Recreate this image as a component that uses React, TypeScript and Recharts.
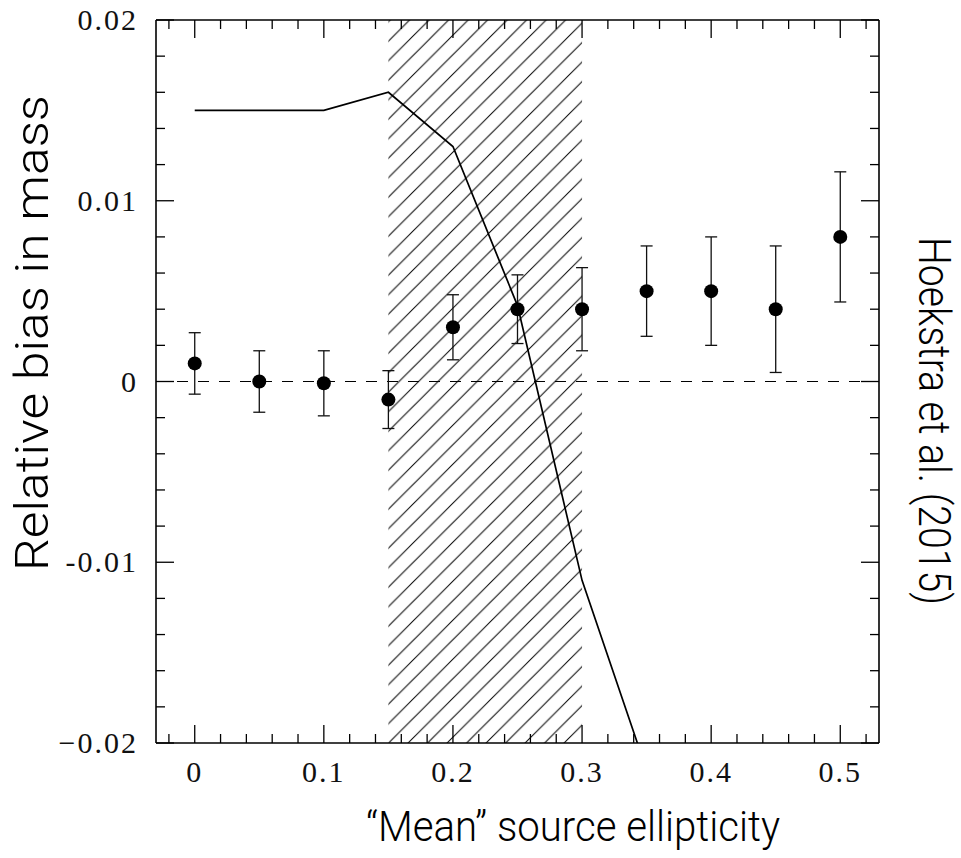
import React from "react";
import { ComposedChart, Line, Scatter, ErrorBar, XAxis, YAxis, ReferenceLine, ReferenceArea } from "recharts";

// measured points (with error bars)
const ellipticity = [0, 0.05, 0.1, 0.15, 0.2, 0.25, 0.3, 0.35, 0.4, 0.45, 0.5];
const measuredBias = [0.001, 0, -0.0001, -0.001, 0.003, 0.004, 0.004, 0.005, 0.005, 0.004, 0.008];
const biasError = [0.0017, 0.0017, 0.0018, 0.0016, 0.0018, 0.0019, 0.0023, 0.0025, 0.003, 0.0035, 0.0036];

// Hoekstra et al. (2015) curve
const curveX = [0, 0.05, 0.1, 0.15, 0.2, 0.25, 0.3, 0.35];
const curveBias = [0.015, 0.015, 0.015, 0.016, 0.013, 0.0042, -0.011, -0.0215];

// hatched band
const bandFrom = 0.15;
const bandTo = 0.3;

const xTicks = [-0.02, 0, 0.02, 0.04, 0.06, 0.08, 0.1, 0.12, 0.14, 0.16, 0.18, 0.2, 0.22, 0.24, 0.26, 0.28, 0.3, 0.32, 0.34, 0.36, 0.38, 0.4, 0.42, 0.44, 0.46, 0.48, 0.5, 0.52];
const xMajor = [0, 0.1, 0.2, 0.3, 0.4, 0.5];
const xMajorLabels = ["0", "0.1", "0.2", "0.3", "0.4", "0.5"];
const yTicks = [-0.02, -0.018, -0.016, -0.014, -0.012, -0.01, -0.008, -0.006, -0.004, -0.002, 0, 0.002, 0.004, 0.006, 0.008, 0.01, 0.012, 0.014, 0.016, 0.018, 0.02];
const yMajor = [-0.02, -0.01, 0, 0.01, 0.02];
const yMajorLabels = ["\u22120.02", "-0.01", "0", "0.01", "0.02"];

const points = ellipticity.map((x, i) => ({ x, y: measuredBias[i], err: biasError[i] }));
const curve = curveX.map((x, i) => ({ x, y: curveBias[i] }));

const W = 961;
const H = 858;
// plot frame edges (page px)
const LEFT = 156;
const RIGHT = 879;
const TOP = 20;
const BOTTOM = 743;

const tickFont = "'Liberation Serif', serif";
const titleFont = "Roboto, 'Noto Sans', sans-serif";

const majorIndex = (v: number, list: number[]) => list.findIndex((m) => Math.abs(m - v) < 1e-9);

const BottomTick = (props: any) => {
  const { x, payload } = props;
  const i = majorIndex(payload.value, xMajor);
  const len = i >= 0 ? 18 : 9;
  return (
    <g>
      <line x1={x} x2={x} y1={BOTTOM} y2={BOTTOM - len} stroke="#000" strokeWidth={1.3} />
      {i >= 0 && (
        <text x={x} y={BOTTOM + 39} textAnchor="middle" fontFamily={tickFont} fontSize={30} letterSpacing={2} fill="#111">
          {xMajorLabels[i]}
        </text>
      )}
    </g>
  );
};

const TopTick = (props: any) => {
  const { x, payload } = props;
  const len = majorIndex(payload.value, xMajor) >= 0 ? 18 : 9;
  return <line x1={x} x2={x} y1={TOP} y2={TOP + len} stroke="#000" strokeWidth={1.3} />;
};

const LeftTick = (props: any) => {
  const { y, payload } = props;
  const i = majorIndex(payload.value, yMajor);
  const len = i >= 0 ? 18 : 9;
  return (
    <g>
      <line x1={LEFT} x2={LEFT + len} y1={y} y2={y} stroke="#000" strokeWidth={1.3} />
      {i >= 0 && (
        <text x={LEFT - 18} y={y + 10} textAnchor="end" fontFamily={tickFont} fontSize={30} letterSpacing={2} fill="#111">
          {yMajorLabels[i]}
        </text>
      )}
    </g>
  );
};

const RightTick = (props: any) => {
  const { y, payload } = props;
  const len = majorIndex(payload.value, yMajor) >= 0 ? 18 : 9;
  return <line x1={RIGHT} x2={RIGHT - len} y1={y} y2={y} stroke="#000" strokeWidth={1.3} />;
};

const Dot = (props: any) => <circle cx={props.cx} cy={props.cy} r={7} fill="#000" />;

const axisLine = { stroke: "#000", strokeWidth: 1.6 };

export default function App() {
  return (
    <div style={{ position: "absolute", left: 0, top: 0, width: W, height: H, background: "#fff" }}>
      <svg width={0} height={0} style={{ position: "absolute" }}>
        <defs>
          <pattern id="hatch" patternUnits="userSpaceOnUse" x={0.6} y={0} width={19.5} height={19.5}>
            <path d="M0,19.5 L19.5,0 M-2,2 L2,-2 M17.5,21.5 L21.5,17.5" stroke="#000" strokeWidth={1} />
          </pattern>
        </defs>
      </svg>
      <ComposedChart width={W} height={H} margin={{ top: TOP - 1, right: W - RIGHT - 1, bottom: H - BOTTOM - 1, left: 0 }}>
        <XAxis
          xAxisId={0}
          dataKey="x"
          type="number"
          domain={[-0.03, 0.53]}
          allowDataOverflow
          ticks={xTicks}
          interval={0}
          height={1}
          tickSize={0}
          tickMargin={0}
          tickLine={false}
          axisLine={axisLine}
          tick={<BottomTick />}
        />
        <XAxis
          xAxisId="top"
          orientation="top"
          dataKey="x"
          type="number"
          domain={[-0.03, 0.53]}
          allowDataOverflow
          ticks={xTicks}
          interval={0}
          height={1}
          tickSize={0}
          tickMargin={0}
          tickLine={false}
          axisLine={axisLine}
          tick={<TopTick />}
        />
        <YAxis
          yAxisId={0}
          dataKey="y"
          type="number"
          domain={[-0.02, 0.02]}
          allowDataOverflow
          ticks={yTicks}
          interval={0}
          width={LEFT}
          tickSize={0}
          tickMargin={0}
          tickLine={false}
          axisLine={axisLine}
          tick={<LeftTick />}
        />
        <YAxis
          yAxisId="right"
          orientation="right"
          dataKey="y"
          type="number"
          domain={[-0.02, 0.02]}
          allowDataOverflow
          ticks={yTicks}
          interval={0}
          width={1}
          tickSize={0}
          tickMargin={0}
          tickLine={false}
          axisLine={axisLine}
          tick={<RightTick />}
        />
        <ReferenceArea x1={bandFrom} x2={bandTo} fill="url(#hatch)" fillOpacity={1} stroke="none" />
        <ReferenceLine y={0} stroke="#000" strokeWidth={1.2} strokeDasharray="11 10" />
        <Line
          data={curve}
          dataKey="y"
          type="linear"
          stroke="#000"
          strokeWidth={1.7}
          dot={false}
          isAnimationActive={false}
        />
        <Scatter data={points} dataKey="y" shape={<Dot />} isAnimationActive={false}>
          <ErrorBar dataKey="err" direction="y" width={6} stroke="#111" strokeWidth={1.3} isAnimationActive={false} />
        </Scatter>
      </ComposedChart>
      <svg width={W} height={H} style={{ position: "absolute", left: 0, top: 0, pointerEvents: "none" }}>
        <text
          x={48}
          y={333}
          transform="rotate(-90 48 333)"
          textAnchor="middle"
          fontFamily={titleFont}
          fontWeight={300}
          fontSize={46}
          textLength={476}
          lengthAdjust="spacingAndGlyphs"
          fill="#000"
        >
          Relative bias in mass
        </text>
        <text
          x={573}
          y={841}
          textAnchor="middle"
          fontFamily={titleFont}
          fontWeight={300}
          fontSize={42}
          textLength={414}
          lengthAdjust="spacingAndGlyphs"
          fill="#000"
        >
          “Mean” source ellipticity
        </text>
        <text
          x={919}
          y={421}
          transform="rotate(90 919 421)"
          textAnchor="middle"
          fontFamily={titleFont}
          fontWeight={300}
          fontSize={44}
          textLength={368}
          lengthAdjust="spacingAndGlyphs"
          fill="#000"
        >
          Hoekstra et al. (2015)
        </text>
      </svg>
    </div>
  );
}
